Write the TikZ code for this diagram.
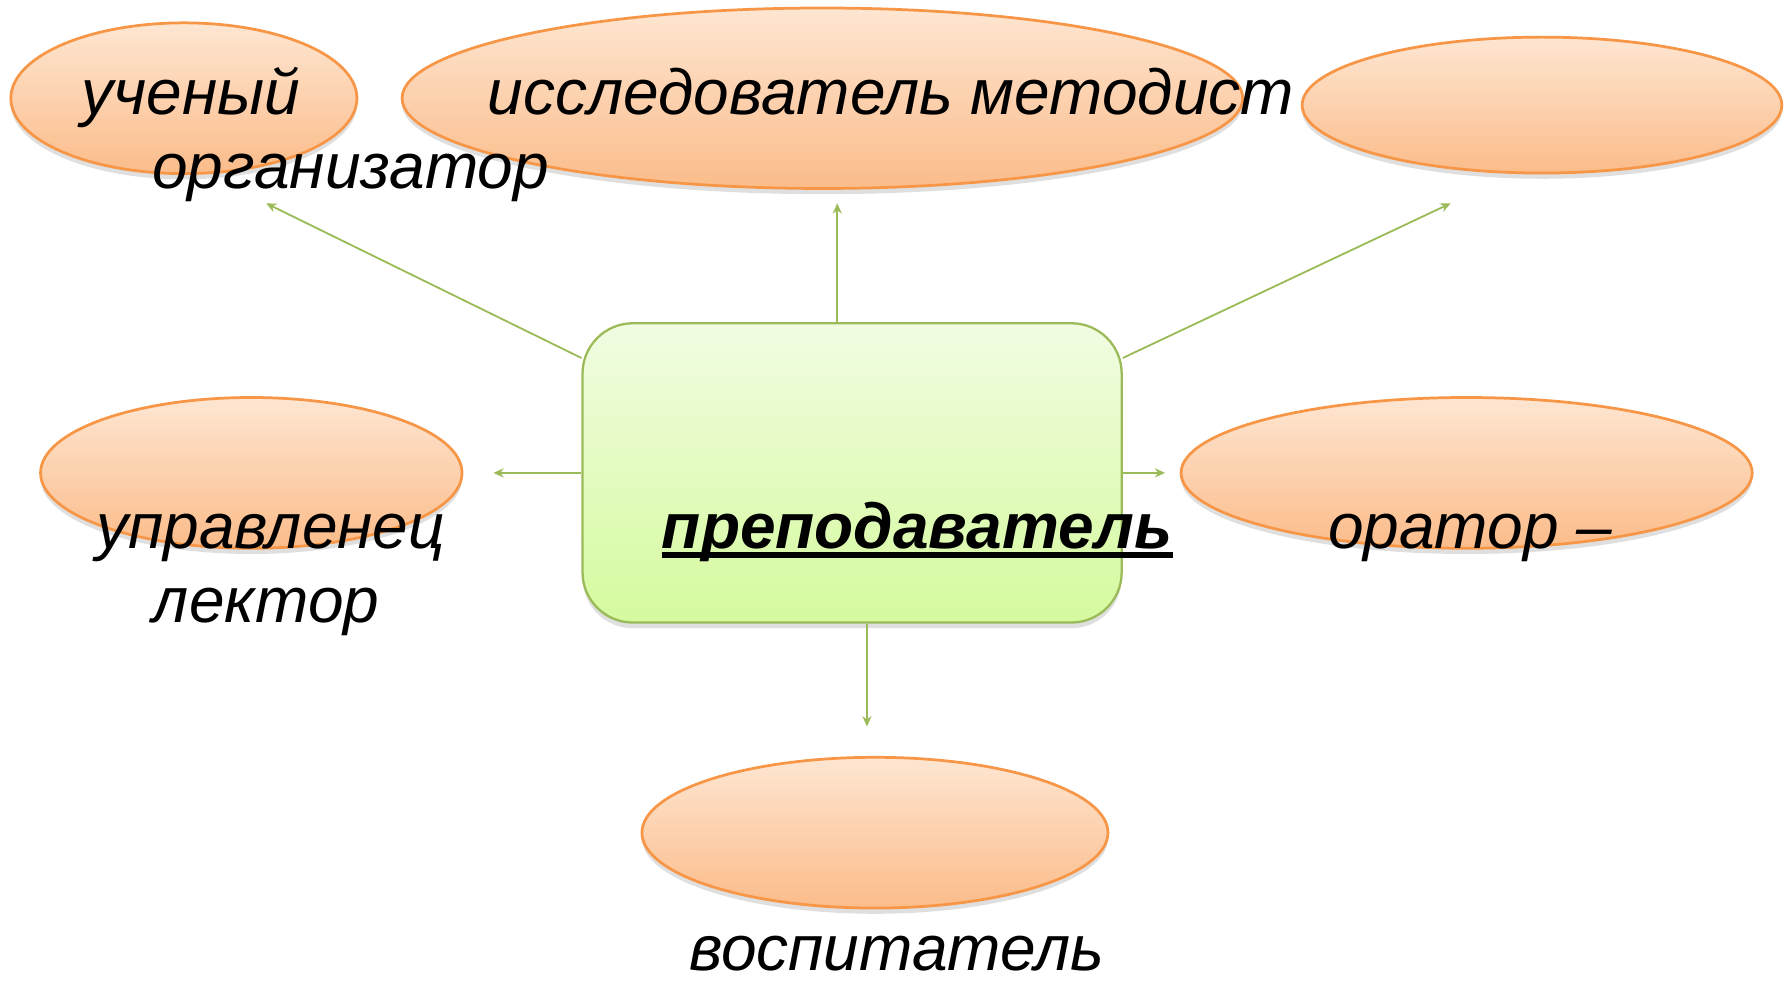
\documentclass[tikz,border=0pt]{standalone}
\usepackage{fontspec}
\setmainfont{Liberation Sans}
\usetikzlibrary{shapes.geometric,arrows.meta,shadows}
\definecolor{ellTop}{RGB}{254,230,210}
\definecolor{ellBot}{RGB}{251,188,138}
\definecolor{ellLine}{RGB}{247,150,70}
\definecolor{boxTop}{RGB}{241,252,226}
\definecolor{boxBot}{RGB}{213,250,158}
\definecolor{boxLine}{RGB}{155,187,89}
\def\pxu{0.5pt}
\tikzset{
  ell/.style={ellipse, draw=ellLine, line width=1.2pt, top color=ellTop, bottom color=ellBot, inner sep=0pt,
    drop shadow={opacity=0.25, shadow xshift=0pt, shadow yshift=-2.5pt}},
  centerbox/.style={rectangle, rounded corners=22pt, draw=boxLine, line width=1pt, top color=boxTop, bottom color=boxBot,
    inner sep=0pt, minimum width=472*\pxu, minimum height=262*\pxu,
    drop shadow={opacity=0.25, shadow xshift=0pt, shadow yshift=-2.5pt}},
  lbl/.style={font=\fontsize{28}{34}\selectfont\itshape, inner sep=0pt, anchor=base},
  conn/.style={draw=boxLine, line width=0.8pt, -{Stealth[length=4.5pt,width=4pt]}}
}
\begin{document}
\begin{tikzpicture}[x=0.5pt,y=-0.5pt]
\useasboundingbox (0,0) rectangle (1568,863);
% ellipses
\node[ell, minimum width=303*\pxu, minimum height=132*\pxu] (e1) at (161,86) {};
\node[ell, minimum width=736*\pxu, minimum height=158*\pxu] (e2) at (720,86) {};
\node[ell, minimum width=420*\pxu, minimum height=119*\pxu] (e3) at (1350,92) {};
\node[ell, minimum width=369*\pxu, minimum height=132*\pxu] (e4) at (220,414) {};
\node[ell, minimum width=500*\pxu, minimum height=132*\pxu] (e5) at (1284,414) {};
\node[ell, minimum width=408*\pxu, minimum height=132*\pxu] (e6) at (766,729) {};
% center box
\node[centerbox] (c) at (746,414) {};
% connectors
\coordinate (t1) at (233,178);
\coordinate (t2) at (733,178);
\coordinate (t3) at (1270,178);
\coordinate (t4) at (432,414);
\coordinate (t5) at (1020,414);
\coordinate (t6) at (759,636);
\draw[conn] (c.157.2) -- (t1);
\draw[conn] (c.north -| t2) -- (t2);
\draw[conn] (c.23.8) -- (t3);
\draw[conn] (c.west) -- (t4);
\draw[conn] (c.east) -- (t5);
\draw[conn] (c.south -| t6) -- (t6);
% labels
\node[lbl] (l1) at (167,100) {ученый};
\node[lbl] (l2) at (780,100) {исследователь методист};
\node[lbl] (l3) at (307,165) {организатор};
\node[lbl, font=\fontsize{28}{34}\selectfont\bfseries\itshape] (l4) at (803,480) {преподаватель};
\draw[line width=2.4pt] ([yshift=-3pt]l4.base west) -- ([yshift=-3pt]l4.base east);
\node[lbl] (l5) at (237,480) {управленец};
\node[lbl] (l6) at (233,545) {лектор};
\node[lbl] (l7) at (1287,480) {оратор –};
\node[lbl] (l8) at (785,850) {воспитатель};
\end{tikzpicture}
\end{document}
